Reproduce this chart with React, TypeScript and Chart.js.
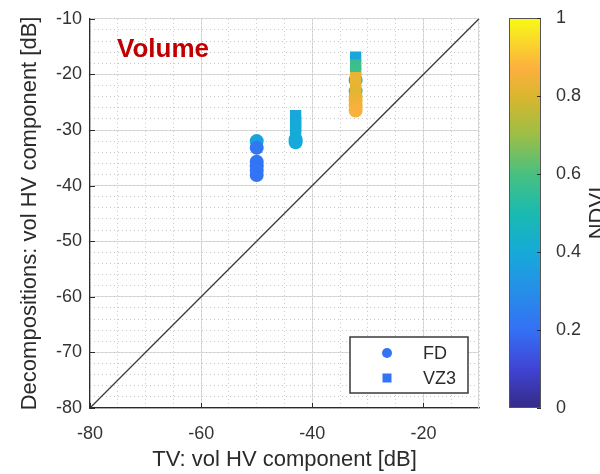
import React, { useEffect, useRef } from "react";
import { Chart, registerables } from "chart.js";

Chart.register(...registerables);
Chart.defaults.font.family = "'Liberation Sans', Arial, Helvetica, sans-serif";

// ---- data -------------------------------------------------------------
// FD decomposition (circles): TV value, decomposition value, NDVI
const fdX = [-50, -50, -50, -50, -50, -50, -43, -43, -32.2, -32.2, -32.2, -32.2, -32.2, -32.2];
const fdY = [-32.0, -33.2, -35.7, -36.5, -37.3, -38.1, -31.7, -32.2, -21.0, -23.0, -24.0, -24.8, -25.6, -26.5];
const fdNdvi = [0.37, 0.22, 0.22, 0.21, 0.22, 0.21, 0.39, 0.40, 0.40, 0.60, 0.82, 0.84, 0.85, 0.86];

// VZ3 decomposition (squares)
const vzX = [-43, -43, -43, -43, -32.2, -32.2, -32.2, -32.2, -32.2, -32.2];
const vzY = [-27.4, -28.4, -29.4, -30.4, -16.9, -18.3, -19.3, -20.6, -21.6, -22.6];
const vzNdvi = [0.39, 0.39, 0.40, 0.40, 0.39, 0.57, 0.58, 0.83, 0.84, 0.82];

// 1:1 reference line
const diagX = [-80, -10];
const diagY = [-80, -10];

// axis ranges / steps
const axisMin = -80;
const axisMax = -10;
const xMajorStep = 20;
const yMajorStep = 10;
const xMinorStep = 5;
const yMinorStep = 2;
const ndviStep = 0.2;

// colormap stops (value, r, g, b)
const cmapPos = [0.0, 0.1, 0.2, 0.3, 0.4, 0.5, 0.6, 0.7, 0.8, 0.87, 0.93, 1.0];
const cmapRgb = [
  [53, 42, 135],
  [64, 68, 212],
  [52, 112, 246],
  [38, 142, 232],
  [22, 170, 216],
  [26, 186, 176],
  [72, 192, 128],
  [156, 190, 70],
  [218, 182, 46],
  [252, 176, 62],
  [250, 210, 46],
  [249, 250, 20],
];

function cmap(v: number): string {
  const t = Math.max(0, Math.min(1, v));
  let i = 0;
  while (i < cmapPos.length - 2 && t > cmapPos[i + 1]) i++;
  const f = (t - cmapPos[i]) / (cmapPos[i + 1] - cmapPos[i]);
  const a = cmapRgb[i];
  const b = cmapRgb[i + 1];
  const c = a.map((ch, k) => Math.round(ch + (b[k] - ch) * f));
  return `rgb(${c[0]},${c[1]},${c[2]})`;
}

const FONT = "'Liberation Sans', Arial, Helvetica, sans-serif";
const TEXT = "#2b2b2b";

// ---- plugins ----------------------------------------------------------
const framePlugin = {
  id: "frame",
  beforeDatasetsDraw(chart: any) {
    const { ctx, chartArea: a } = chart;
    ctx.save();
    ctx.strokeStyle = "#d6d6d6";
    ctx.lineWidth = 1;
    ctx.beginPath();
    ctx.moveTo(Math.round(a.right) - 0.5, a.top);
    ctx.lineTo(Math.round(a.right) - 0.5, a.bottom);
    ctx.stroke();
    ctx.restore();
  },
  afterDraw(chart: any) {
    const { ctx, chartArea: a, scales } = chart;
    ctx.save();
    // inward tick marks on the left and bottom axes
    ctx.strokeStyle = "#2b2b2b";
    ctx.lineWidth = 1;
    ctx.beginPath();
    for (const t of scales.y.ticks) {
      const py = Math.round(scales.y.getPixelForValue(t.value)) + 0.5;
      ctx.moveTo(a.left, py);
      ctx.lineTo(a.left + 5, py);
    }
    for (const t of scales.x.ticks) {
      const px = Math.round(scales.x.getPixelForValue(t.value)) + 0.5;
      ctx.moveTo(px, a.bottom);
      ctx.lineTo(px, a.bottom - 5);
    }
    ctx.stroke();

    // panel label
    ctx.fillStyle = "#c00000";
    ctx.font = `bold 26px ${FONT}`;
    ctx.textAlign = "left";
    ctx.textBaseline = "alphabetic";
    ctx.fillText("Volume", a.left + 27, a.top + 38);

    // legend
    const bx = a.right - 129;
    const by = a.bottom - 71;
    ctx.fillStyle = "#ffffff";
    ctx.fillRect(bx, by, 118, 56);
    ctx.strokeStyle = "#3a3a3a";
    ctx.lineWidth = 1.5;
    ctx.strokeRect(bx, by, 118, 56);
    const entries = chart.data.datasets.filter((d: any) => d.legendColor);
    entries.sort((p: any, q: any) => p.legendRank - q.legendRank);
    entries.forEach((d: any, i: number) => {
      const cy = by + 16 + i * 25;
      const cx = bx + 37;
      ctx.fillStyle = d.legendColor;
      if (d.pointStyle === "rect") {
        ctx.fillRect(cx - 4.5, cy - 4.5, 9, 9);
      } else {
        ctx.beginPath();
        ctx.arc(cx, cy, 5, 0, Math.PI * 2);
        ctx.fill();
      }
      ctx.fillStyle = TEXT;
      ctx.font = `18px ${FONT}`;
      ctx.textBaseline = "middle";
      ctx.fillText(d.label, bx + 73, cy + 1);
    });
    ctx.restore();
  },
};

const colorbarPlugin = {
  id: "colorbar",
  beforeDatasetsDraw(chart: any) {
    const { ctx, chartArea: a, scales } = chart;
    const y0 = scales.y.getPixelForValue(0);
    const y1 = scales.y.getPixelForValue(1);
    const g = ctx.createLinearGradient(0, y0, 0, y1);
    cmapPos.forEach((p, i) => {
      const c = cmapRgb[i];
      g.addColorStop(p, `rgb(${c[0]},${c[1]},${c[2]})`);
    });
    ctx.save();
    ctx.fillStyle = g;
    ctx.fillRect(a.left, y1, a.right - a.left, y0 - y1);
    ctx.strokeStyle = "#555555";
    ctx.lineWidth = 1;
    ctx.strokeRect(a.left + 0.5, y1 + 0.5, a.right - a.left - 1, y0 - y1 - 1);
    // inward ticks on the right edge
    ctx.strokeStyle = "#2b2b2b";
    ctx.beginPath();
    for (const t of scales.y.ticks) {
      const py = Math.round(scales.y.getPixelForValue(t.value)) + 0.5;
      ctx.moveTo(a.right, py);
      ctx.lineTo(a.right - 4, py);
    }
    ctx.stroke();
    // colorbar label, reading bottom-to-top
    ctx.translate(a.right + 63, (y0 + y1) / 2);
    ctx.rotate(-Math.PI / 2);
    ctx.fillStyle = TEXT;
    ctx.font = `22px ${FONT}`;
    ctx.textAlign = "center";
    ctx.textBaseline = "alphabetic";
    ctx.fillText("NDVI", 0, 0);
    ctx.restore();
  },
};

// ---- component --------------------------------------------------------
export default function App() {
  const mainRef = useRef<HTMLCanvasElement>(null);
  const barRef = useRef<HTMLCanvasElement>(null);

  useEffect(() => {
    const fdPts = fdX.map((x, i) => ({ x, y: fdY[i] }));
    const vzPts = vzX.map((x, i) => ({ x, y: vzY[i] }));
    const diagPts = diagX.map((x, i) => ({ x, y: diagY[i] }));

    const tickFont = { size: 18, family: FONT };
    const titleFont = { size: 22, family: FONT };

    const main = new Chart(mainRef.current as HTMLCanvasElement, {
      type: "scatter",
      data: {
        datasets: [
          {
            label: "VZ3",
            data: vzPts,
            pointStyle: "rect",
            pointRadius: 8,
            pointHoverRadius: 8,
            pointBorderWidth: 0,
            pointBackgroundColor: vzNdvi.map(cmap),
            order: 0,
            legendColor: cmap(0.21),
            legendRank: 1,
          } as any,
          {
            label: "FD",
            data: fdPts,
            pointStyle: "circle",
            pointRadius: 7,
            pointHoverRadius: 7,
            pointBorderWidth: 0,
            pointBackgroundColor: fdNdvi.map(cmap),
            order: 1,
            legendColor: cmap(0.21),
            legendRank: 0,
          } as any,
          {
            type: "line",
            label: "1:1",
            data: diagPts,
            borderColor: "#3c3c3c",
            borderWidth: 1.3,
            pointRadius: 0,
            order: 2,
          } as any,
        ],
      },
      options: {
        responsive: false,
        animation: false,
        events: [],
        layout: { padding: { top: 18, right: 21, left: 0, bottom: 0 } },
        plugins: { legend: { display: false }, tooltip: { enabled: false } },
        scales: {
          x: {
            type: "linear",
            position: "bottom",
            min: axisMin,
            max: axisMax,
            ticks: { stepSize: xMajorStep, includeBounds: false, padding: 15, font: tickFont, color: "#333" },
            grid: { color: "#dcdcdc", drawTicks: false, lineWidth: 1 },
            border: { color: "#2b2b2b", width: 1.2 },
            title: {
              display: true,
              text: "TV: vol HV component [dB]",
              font: titleFont,
              color: TEXT,
              padding: { top: 0, bottom: 1 },
            },
            afterFit(s: any) {
              s.height = 66;
            },
          },
          y: {
            type: "linear",
            position: "left",
            min: axisMin,
            max: axisMax,
            ticks: { stepSize: yMajorStep, padding: 8, font: tickFont, color: "#333" },
            grid: { color: "#dcdcdc", drawTicks: false, lineWidth: 1 },
            border: { color: "#2b2b2b", width: 1.2 },
            title: {
              display: true,
              text: "Decompositions: vol HV component [dB]",
              font: titleFont,
              color: TEXT,
              padding: { top: 17, bottom: 0 },
            },
            afterFit(s: any) {
              s.width = 90;
            },
          },
          xMinor: {
            type: "linear",
            position: "bottom",
            min: axisMin,
            max: axisMax,
            ticks: { display: false, stepSize: xMinorStep },
            grid: { color: "#c6c6c6", drawTicks: false, lineWidth: 1 },
            border: { display: false, dash: [1, 3] },
            afterFit(s: any) {
              s.height = 0;
            },
          },
          yMinor: {
            type: "linear",
            position: "left",
            min: axisMin,
            max: axisMax,
            ticks: { display: false, stepSize: yMinorStep },
            grid: { color: "#c6c6c6", drawTicks: false, lineWidth: 1 },
            border: { display: false, dash: [1, 3] },
            afterFit(s: any) {
              s.width = 0;
            },
          },
        } as any,
      },
      plugins: [framePlugin],
    });

    const bar = new Chart(barRef.current as HTMLCanvasElement, {
      type: "scatter",
      data: { datasets: [] },
      options: {
        responsive: false,
        animation: false,
        events: [],
        layout: { padding: { left: 9, top: 18, bottom: 66, right: 0 } },
        plugins: { legend: { display: false }, tooltip: { enabled: false } },
        scales: {
          x: { display: false, min: 0, max: 1 },
          y: {
            type: "linear",
            position: "right",
            min: 0,
            max: 1,
            ticks: {
              stepSize: ndviStep,
              padding: 7,
              font: tickFont,
              color: "#333",
              callback: (v: any) => String(Math.round(Number(v) * 10) / 10),
            },
            grid: { display: false },
            border: { display: false },
            afterFit(s: any) {
              s.width = 59;
            },
          },
        } as any,
      },
      plugins: [colorbarPlugin],
    });

    return () => {
      main.destroy();
      bar.destroy();
    };
  }, []);

  return (
    <div
      style={{
        position: "absolute",
        left: 0,
        top: 0,
        width: 600,
        height: 474,
        background: "#ffffff",
        overflow: "hidden",
      }}
    >
      <canvas ref={mainRef} width={500} height={474} style={{ position: "absolute", left: 0, top: 0 }} />
      <canvas ref={barRef} width={100} height={474} style={{ position: "absolute", left: 500, top: 0 }} />
    </div>
  );
}
